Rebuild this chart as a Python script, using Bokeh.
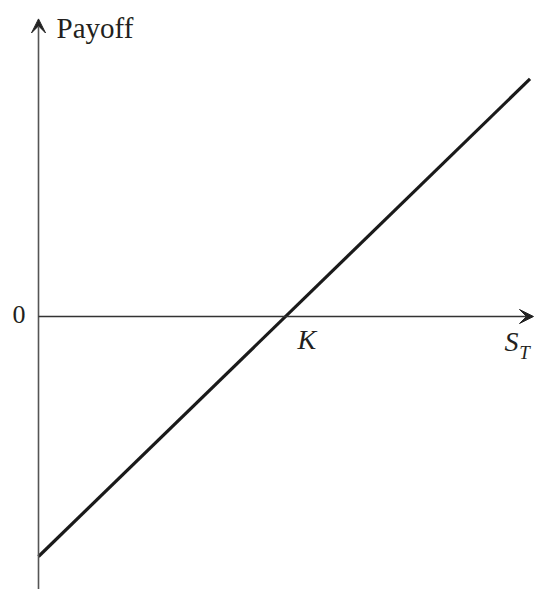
from bokeh.plotting import figure
from bokeh.models import Arrow, VeeHead, Range1d, Label
from bokeh.embed import file_html
from bokeh.resources import INLINE

# Data (long forward payoff: S_T - K)
strike_K = 100
spot_ST = [0, 199]
payoff = [-100, 99]
axis_x_end = 200.4
axis_y_top = 124
axis_y_bottom = -114
y_axis_label = "Payoff"
x_axis_label = "S"
x_axis_sub = "T"
tick_zero = "0"
tick_K = "K"

W, H = 534, 589
p = figure(width=W, height=H, output_backend="svg", toolbar_location=None,
           x_range=Range1d(-15.385, 200.81), y_range=Range1d(-113.75, 131.67),
           min_border=0, min_border_left=0, min_border_right=0,
           min_border_top=0, min_border_bottom=0)
p.xaxis.visible = False
p.yaxis.visible = False
p.grid.visible = False
p.outline_line_color = None
p.background_fill_color = "white"
p.border_fill_color = "white"

# axes with arrowheads
p.add_layout(Arrow(end=VeeHead(size=14, fill_color="#222222", line_color="#222222", line_width=1),
                   x_start=0, y_start=axis_y_bottom, x_end=0, y_end=axis_y_top,
                   line_color="#555555", line_width=1.6))
p.add_layout(Arrow(end=VeeHead(size=14, fill_color="#222222", line_color="#222222", line_width=1),
                   x_start=0, y_start=0, x_end=axis_x_end, y_end=0,
                   line_color="#333333", line_width=1.4))

# payoff line
p.line(spot_ST, payoff, line_color="#1a1a1a", line_width=3.2)

font = "Liberation Serif"
col = "#231f20"
dy = 4.0
p.add_layout(Label(x=7.3, y=116.25 + dy, text=y_axis_label, text_font=font, text_font_size="29px",
                   text_color=col, text_align="left", text_baseline="alphabetic"))
p.add_layout(Label(x=-5.26, y=-3.33 + dy, text=tick_zero, text_font=font, text_font_size="26px",
                   text_color=col, text_align="right", text_baseline="alphabetic"))
p.add_layout(Label(x=104.9, y=-13.75 + dy, text=tick_K, text_font=font, text_font_size="28px",
                   text_font_style="italic", text_color=col, text_align="left",
                   text_baseline="alphabetic"))
p.add_layout(Label(x=188.7, y=-14.6 + dy, text=x_axis_label, text_font=font, text_font_size="28px",
                   text_font_style="italic", text_color=col, text_align="left",
                   text_baseline="alphabetic"))
p.add_layout(Label(x=194.6, y=-19.2 + dy, text=x_axis_sub, text_font=font, text_font_size="19px",
                   text_font_style="italic", text_color=col, text_align="left",
                   text_baseline="alphabetic"))

open("out.html", "w").write(file_html(p, INLINE))
